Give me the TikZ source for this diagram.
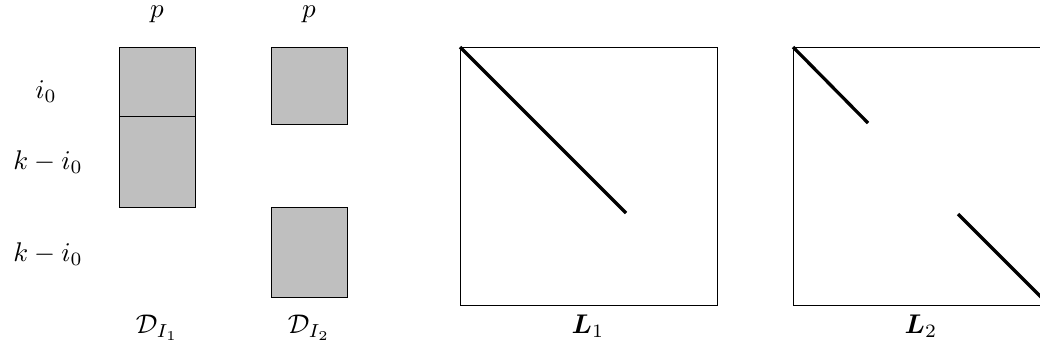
\documentclass[tikz,border=0pt]{standalone}
\usepackage{bm}
\begin{document}
\begin{tikzpicture}[x=0.37pt,y=-0.37pt,
  blk/.style={draw=black,fill=black!25,line width=0.35pt},
  frame/.style={draw=black,line width=0.35pt},
  diag/.style={draw=black,line width=1.2pt},
  lbl/.style={inner sep=0pt}]
\clip (0,0) rectangle (1040,348);
\useasboundingbox (0,0) rectangle (1040,348);
% labels
\node[lbl] (p1) at (157,14) {$p$};
\node[lbl] (p2) at (309,14) {$p$};
\node[lbl] (i0) at (46,92) {$i_0$};
\node[lbl] (ki1) at (48,162) {$k-i_0$};
\node[lbl] (ki2) at (48,254) {$k-i_0$};
\node[lbl] (d1) at (157,328) {$\mathcal{D}_{I_1}$};
\node[lbl] (d2) at (309,328) {$\mathcal{D}_{I_2}$};
\node[lbl] (l1) at (588,326) {$\bm{L}_1$};
\node[lbl] (l2) at (921,326) {$\bm{L}_2$};
% gray blocks
\draw[blk] (119,47) rectangle (195,116);
\draw[blk] (119,116) rectangle (195,207);
\draw[blk] (271,47) rectangle (347,124);
\draw[blk] (271,207) rectangle (347,297);
% L1
\draw[frame] (460,47) rectangle (717,305);
\coordinate (a1) at (460,47);
\coordinate (a2) at (626,213);
\draw[diag] (a1) -- (a2);
% L2
\draw[frame] (793,47) rectangle (1050,305);
\coordinate (b1) at (793,47);
\coordinate (b2) at (868,123);
\coordinate (b3) at (958,214);
\coordinate (b4) at (1050,306);
\draw[diag] (b1) -- (b2);
\draw[diag] (b3) -- (b4);
\end{tikzpicture}
\end{document}
